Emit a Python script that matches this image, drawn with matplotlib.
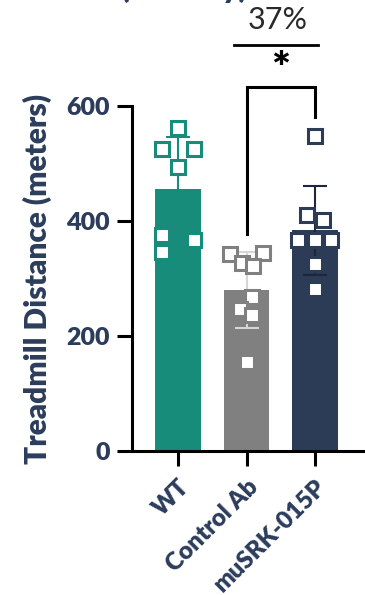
import numpy as np
import matplotlib
matplotlib.use("Agg")
import matplotlib.pyplot as plt

plt.rcParams['font.family'] = ['Lato', 'DejaVu Sans']

groups = ['WT', 'Control Ab', 'muSRK-015P']
wt = [562, 525, 525, 494, 376, 367, 346]
ctrl = [342, 344, 327, 322, 268, 247, 236, 155]
musrk = [548, 410, 402, 367, 367, 367, 325, 282]

# horizontal spread of the dots inside each bar (fraction of bar spacing)
wt_dx = [0, -0.24, 0.24, 0, -0.24, 0.24, -0.24]
ctrl_dx = [-0.24, 0.24, -0.07, 0.10, 0.08, -0.10, 0.08, 0]
musrk_dx = [0, -0.12, 0.12, -0.25, 0, 0.24, 0, 0]

bar_colors = ['#178c7a', '#808080', '#2c3b56']
err_colors = ['#178c7a', '#d6d6d6', '#1c273b']
navy = '#2c3d5c'

data = [wt, ctrl, musrk]
offsets = [wt_dx, ctrl_dx, musrk_dx]
means = [np.mean(d) for d in data]
sds = [np.std(d, ddof=1) for d in data]
x = np.arange(len(groups))

fig = plt.figure(figsize=(3.65, 5.95), dpi=100)
ax = fig.add_axes([132 / 365, 144 / 595, 231 / 365, 345 / 595])

ax.bar(x, means, width=0.67, color=bar_colors, zorder=1)
for i in x:
    ax.errorbar(x[i], means[i], yerr=sds[i], color=err_colors[i], lw=1.5,
                capsize=8.5, capthick=1.5, zorder=2, clip_on=False)
    ax.plot(x[i] + np.array(offsets[i]), data[i], 's', ms=9.8, mew=2.2,
            mfc='white', mec=bar_colors[i], zorder=3, clip_on=False)

ax.set_xlim(-0.672, 2.70)
ax.set_ylim(0, 600)
ax.set_yticks([0, 200, 400, 600])
ax.set_xticks(x)
ax.set_xticklabels(groups, rotation=45, ha='right', rotation_mode='anchor',
                   fontsize=17.5, fontweight='heavy', color=navy)
for lab in ax.get_yticklabels():
    lab.set_fontsize(18)
    lab.set_fontweight('heavy')
    lab.set_color(navy)
ax.tick_params(axis='both', length=11, width=2.2, color='black', pad=5)
ax.tick_params(axis='x', pad=7)
ax.spines[['top', 'right']].set_visible(False)
ax.spines[['left', 'bottom']].set_linewidth(2.2)
ax.set_ylabel('Treadmill Distance (meters)', fontsize=21.5, fontweight='heavy',
              color=navy, labelpad=10)

# significance bracket between Control Ab and muSRK-015P
gap = 33
top = 633
ax.plot([1, 1, 2, 2], [max(ctrl) + gap, top, top, max(musrk) + gap],
        color='black', lw=2.2, clip_on=False, solid_joinstyle='miter')
ax.text(1.5, 662, '*', ha='center', va='center', fontsize=32,
        fontweight='heavy', color='black')
ax.plot([0.82, 2.04], [706, 706], color='black', lw=2, clip_on=False)
pct = round((means[2] / means[1] - 1) * 100)
ax.text(1.45, 750, f'{pct}%', ha='center', va='center', fontsize=22,
        color='#2a2a2a', family=['Liberation Sans Narrow', 'Lato'])

fig.text(120 / 365, 1 + 2 / 595, '(Efficacy)', ha='left', va='baseline',
         fontsize=22, fontweight='heavy', color=navy)

fig.savefig('out.png', dpi=100)
